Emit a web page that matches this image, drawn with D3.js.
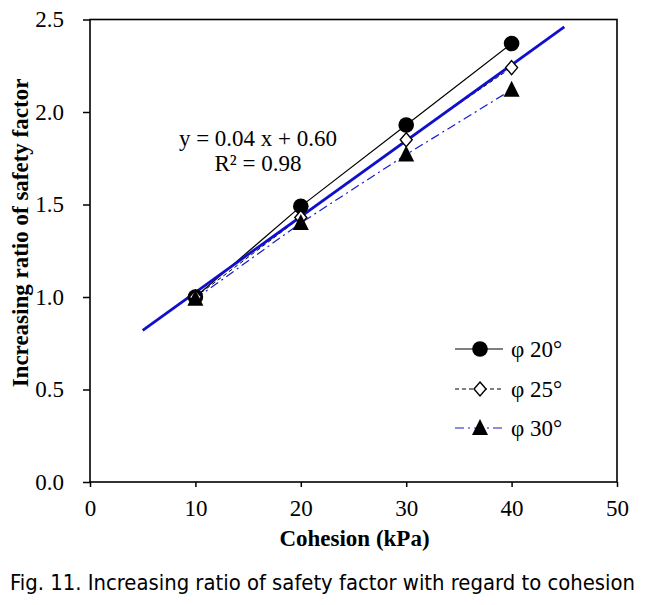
<!DOCTYPE html>
<html><head><meta charset="utf-8">
<script src="https://cdn.jsdelivr.net/npm/d3@7"></script>
<style>body{margin:0;background:#fff}svg{display:block}</style>
</head><body><svg id="c" width="653" height="605"></svg>
<script>
const cohesion = [10, 20, 30, 40];
const phi20 = [1.00, 1.49, 1.93, 2.37];
const phi25 = [1.00, 1.43, 1.85, 2.24];
const phi30 = [0.99, 1.40, 1.77, 2.12];
const trendX = [5, 45];
const trendY = [0.82, 2.46];
const xTicks = [0, 10, 20, 30, 40, 50];
const yTicks = [0.0, 0.5, 1.0, 1.5, 2.0, 2.5];
const seriesNames = ["φ 20°", "φ 25°", "φ 30°"];

const svg = d3.select("#c");
const L = 90, R = 617, T = 19.5, B = 482;
const x = d3.scaleLinear().domain([0, 50]).range([L, R]);
const y = d3.scaleLinear().domain([0, 2.5]).range([B, T]);
const serif = "'Liberation Serif','Times New Roman',serif";
const FS = 23;

// frame
svg.append("rect").attr("x", L).attr("y", T).attr("width", R - L).attr("height", B - T)
  .attr("fill", "none").attr("stroke", "#000").attr("stroke-width", 1.6);

// y axis
const ya = svg.append("g").attr("transform", `translate(${L},0)`)
  .call(d3.axisLeft(y).tickValues(yTicks).tickFormat(d3.format(".1f")).tickSizeInner(7).tickSizeOuter(0).tickPadding(19));
ya.select(".domain").remove();
ya.selectAll("line").attr("stroke-width", 1.5);
ya.selectAll("text").attr("font-family", serif).attr("font-size", FS).attr("fill", "#000");

// x axis
const xa = svg.append("g").attr("transform", `translate(0,${B})`)
  .call(d3.axisBottom(x).tickValues(xTicks).tickSizeInner(5).tickSizeOuter(0).tickPadding(13));
xa.select(".domain").remove();
xa.selectAll("line").attr("stroke-width", 1.5);
xa.selectAll("text").attr("font-family", serif).attr("font-size", FS).attr("fill", "#000");

// axis titles
svg.append("text").attr("x", (L + R) / 2 + 1).attr("y", 546).attr("text-anchor", "middle")
  .attr("font-family", serif).attr("font-weight", "bold").attr("font-size", FS).text("Cohesion (kPa)");
svg.append("text").attr("transform", "translate(28,233) rotate(-90)").attr("text-anchor", "middle")
  .attr("font-family", serif).attr("font-weight", "bold").attr("font-size", FS).text("Increasing ratio of safety factor");

// caption
svg.append("text").attr("x", 10).attr("y", 590).attr("font-family", "'Liberation Sans Narrow','DejaVu Sans Condensed','Liberation Sans',sans-serif")
  .attr("font-size", 22).attr("textLength", 625).attr("lengthAdjust", "spacingAndGlyphs")
  .text("Fig. 11. Increasing ratio of safety factor with regard to cohesion");

const line = d3.line().x(d => x(d[0])).y(d => y(d[1]));
const styles = [
  {vals: phi20, stroke: "#000", dash: null, w: 1.2, marker: "circle"},
  {vals: phi25, stroke: "#000", dash: "4,3", w: 1, marker: "diamond"},
  {vals: phi30, stroke: "#1a1acc", dash: "9,4,2,4", w: 1.2, marker: "triangle"}
];

function drawMarker(g, type, cx, cy) {
  if (type === "circle") {
    g.append("circle").attr("cx", cx).attr("cy", cy).attr("r", 7.8).attr("fill", "#000");
  } else if (type === "diamond") {
    g.append("path").attr("d", "M0,-7L6,0L0,7L-6,0Z")
      .attr("transform", `translate(${cx},${cy})`)
      .attr("fill", "#fff").attr("stroke", "#000").attr("stroke-width", 1.4);
  } else {
    g.append("path").attr("d", "M0,-9L8,7L-8,7Z").attr("transform", `translate(${cx},${cy})`).attr("fill", "#000");
  }
}

styles.forEach(s => {
  const pts = cohesion.map((c, i) => [c, s.vals[i]]);
  svg.append("path").attr("d", line(pts)).attr("fill", "none").attr("stroke", s.stroke)
    .attr("stroke-width", s.w).attr("stroke-dasharray", s.dash);
});
// trend line
svg.append("path").attr("d", line(trendX.map((v, i) => [v, trendY[i]])))
  .attr("fill", "none").attr("stroke", "#1010cc").attr("stroke-width", 2.8);

styles.forEach(s => {
  const g = svg.append("g");
  cohesion.forEach((c, i) => drawMarker(g, s.marker, x(c), y(s.vals[i])));
});

// equation
svg.append("text").attr("x", 258).attr("y", 146).attr("text-anchor", "middle")
  .attr("font-family", serif).attr("font-size", FS).text("y = 0.04 x + 0.60");
svg.append("text").attr("x", 258).attr("y", 171).attr("text-anchor", "middle")
  .attr("font-family", serif).attr("font-size", FS).text("R² = 0.98");

// legend
styles.forEach((s, i) => {
  const ly = [349, 389, 428][i];
  const g = svg.append("g");
  g.append("line").attr("x1", 455).attr("x2", 503).attr("y1", ly).attr("y2", ly)
    .attr("stroke", s.stroke).attr("stroke-width", s.w).attr("stroke-dasharray", s.dash);
  drawMarker(g, s.marker, 480, ly);
  g.append("text").attr("x", 511).attr("y", ly + 8).attr("font-family", serif).attr("font-size", FS)
    .text(seriesNames[i]);
});
</script></body></html>
